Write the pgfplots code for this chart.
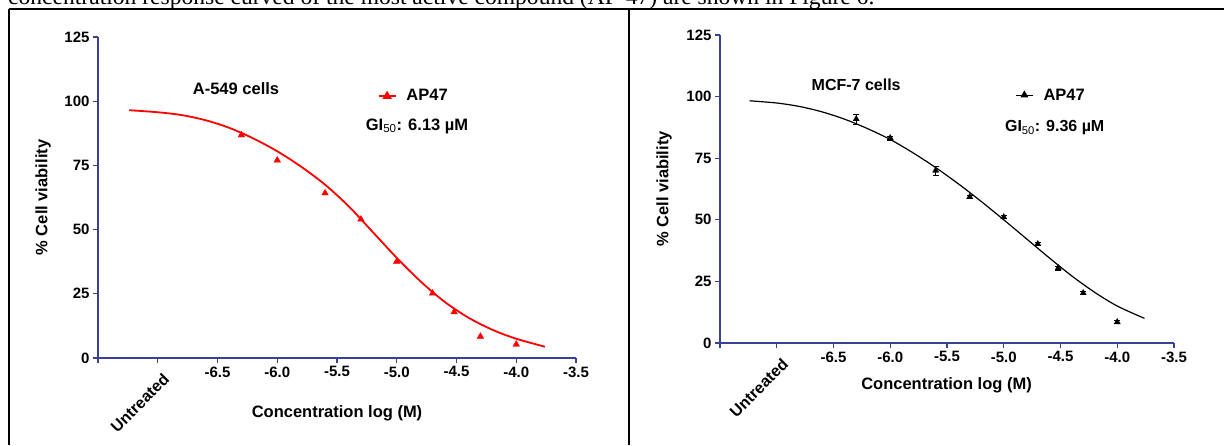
\documentclass[border=0pt]{standalone}
\usepackage{pgfplots}
\pgfplotsset{compat=1.18}
\usepackage{fontspec}
\setmainfont{Liberation Sans}
\newfontfamily\bodyserif{Liberation Serif}

\definecolor{axblue}{RGB}{58,64,150}

\pgfplotsset{
  cellplot/.style={
    scale only axis,
    axis lines*=left,
    axis line style={axblue, line width=1.4pt},
    tick style={axblue, line width=1.1pt},
    tick align=outside,
    major tick length=5pt,
    xmin=-7.5, xmax=-3.5, ymin=0, ymax=125,
    xtick={-7.5,-6.5,-6,-5.5,-5,-4.5,-4,-3.5},
    xticklabels={,-6.5,-6.0,-5.5,-5.0,-4.5,-4.0,-3.5},
    extra x ticks={-7},
    extra x tick labels={Untreated},
    extra x tick style={xticklabel style={rotate=45, anchor=north east, yshift=-6pt,
      font=\fontsize{16}{16}\selectfont\bfseries}},
    ytick={0,25,50,75,100,125},
    /pgf/number format/assume math mode=true,
    tick label style={font=\fontsize{15}{15}\selectfont\bfseries},
    label style={font=\fontsize{16.5}{16.5}\selectfont\bfseries},
    xlabel={Concentration log (M)},
    ylabel={\% Cell viability},
    clip=false,
    legend style={draw=none, fill=none, inner sep=0pt, anchor=west,
      nodes={inner sep=0pt}, column sep=10pt,
      font=\fontsize{16.5}{16.5}\selectfont\bfseries},
    legend image code/.code={
      \draw[#1, mark repeat=2, mark phase=2] plot coordinates {(0pt,0pt) (8.5pt,0pt) (17pt,0pt)};
    },
  }
}

\begin{document}
\begin{tikzpicture}
\useasboundingbox (0pt,0pt) rectangle (1224pt,-445pt);
\clip (0pt,0pt) rectangle (1224pt,-445pt);

% cut-off sentence above the table
\node[anchor=base west, inner sep=0pt] at (8pt,-4.5pt)
  {\resizebox{866pt}{!}{\bodyserif concentration response curved of the most active compound (AP-47) are shown in Figure 6.}};

% table borders
\draw[black, line width=2pt] (8.5pt,-9pt) -- (1224pt,-9pt);
\draw[black, line width=2pt] (8.5pt,-9pt) -- (8.5pt,-445pt);
\draw[black, line width=2pt] (629pt,-9pt) -- (629pt,-445pt);

% ---- A-549 ----
\begin{axis}[cellplot,
  at={(98pt,-358pt)}, anchor=south west,
  width=478pt, height=321pt,
  xlabel style={at={(axis description cs:0.5,-0.171)}, anchor=center},
  ylabel style={at={(axis description cs:-0.115,0.5)}, anchor=center},
  legend style={at={(axis cs:-5.16,102)}},
]
\addlegendimage{red, line width=1.6pt, mark=triangle*, mark size=3.8pt, mark options={solid}}
\addlegendentry{AP47}
\addplot[red, line width=1.8pt, smooth, forget plot] coordinates {
  (-7.24,96.5) (-7.0,95.7) (-6.8,94.6) (-6.6,92.6) (-6.4,89.6) (-6.2,85.5)
  (-6.0,80.5) (-5.8,74.5) (-5.6,67.5) (-5.4,59.0) (-5.2,49.0) (-5.0,39.0)
  (-4.8,29.8) (-4.6,21.9) (-4.4,15.7) (-4.2,11.0) (-4.0,7.5) (-3.76,4.4)
};
\addplot[only marks, red, mark=triangle*, mark size=3.8pt, forget plot] coordinates {
  (-6.3,86.8) (-6.0,77.0) (-5.6,64.2) (-5.3,54.0) (-5.0,37.6)
  (-4.7,25.2) (-4.52,17.9) (-4.3,8.4) (-4.0,5.3)
};
\node[anchor=center, font=\fontsize{16.5}{16.5}\selectfont\bfseries] at (axis cs:-6.345,105.1) {A-549 cells};
\node[anchor=west, inner sep=0pt, font=\fontsize{16.5}{16.5}\selectfont\bfseries] at (axis cs:-5.26,90.3) {GI$_{\mathrm{50}}$: 6.13 µM};
\end{axis}

% ---- MCF-7 ----
\begin{axis}[cellplot,
  at={(720pt,-343pt)}, anchor=south west,
  width=454pt, height=308pt,
  xlabel style={at={(axis description cs:0.499,-0.136)}, anchor=center},
  ylabel style={at={(axis description cs:-0.123,0.5)}, anchor=center},
  legend style={at={(axis cs:-4.90,100.6)}},
]
\addlegendimage{black, line width=1.2pt, mark=triangle*, mark size=3.5pt, mark options={solid}}
\addlegendentry{AP47}
\addplot[black, line width=1.2pt, smooth, forget plot] coordinates {
  (-7.24,98.3) (-7.0,97.4) (-6.8,96.0) (-6.6,93.8) (-6.4,90.8) (-6.2,87.0)
  (-6.0,82.6) (-5.8,77.2) (-5.6,71.2) (-5.4,64.6) (-5.2,57.5) (-5.0,50.0)
  (-4.8,42.3) (-4.6,34.6) (-4.4,27.2) (-4.2,20.6) (-4.0,15.0) (-3.76,10.0)
};
\addplot[only marks, black, mark=triangle*, mark size=3.5pt, forget plot,
  error bars/.cd, y dir=both, y explicit,
  error bar style={black, line width=0.9pt},
  error mark options={rotate=90, mark size=3pt, line width=0.9pt}]
  coordinates {
  (-6.3,90.9) +- (0,2.0)
  (-6.0,83.2) +- (0,0.8)
  (-5.6,70.0) +- (0,1.8)
  (-5.3,59.3) +- (0,0.6)
  (-5.0,51.1) +- (0,0.6)
  (-4.7,40.2) +- (0,0.6)
  (-4.52,30.4) +- (0,0.8)
  (-4.3,20.3) +- (0,0.6)
  (-4.0,8.5) +- (0,0.6)
};
\node[anchor=center, font=\fontsize{16}{16}\selectfont\bfseries] at (axis cs:-6.30,104.7) {MCF-7 cells};
\node[anchor=west, inner sep=0pt, font=\fontsize{16}{16}\selectfont\bfseries] at (axis cs:-4.99,87.3) {GI$_{\mathrm{50}}$: 9.36 µM};
\end{axis}
\end{tikzpicture}
\end{document}
